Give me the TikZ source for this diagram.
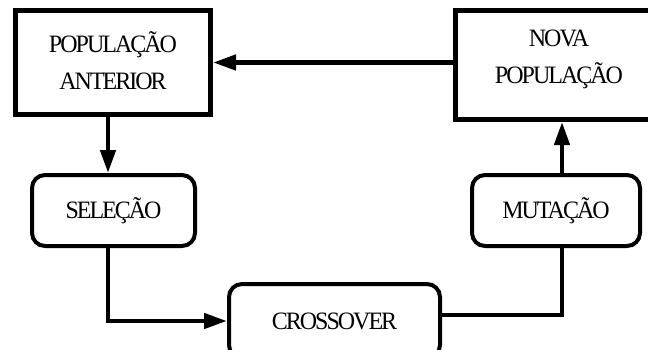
\documentclass[tikz,border=0pt]{standalone}
\usepackage{fontspec}
\setmainfont{Liberation Serif}[LetterSpace=-8,FakeStretch=0.96]
\usetikzlibrary{arrows.meta,calc}

\tikzset{
  popbox/.style={draw, line width=5pt, inner sep=0pt},
  stepbox/.style={draw, line width=4pt, rounded corners=13pt, inner sep=0pt,
    font=\fontsize{25pt}{37pt}\selectfont},
  lbl/.style={inner sep=0pt, align=center, font=\fontsize{25pt}{37pt}\selectfont},
  flow/.style={line width=4.5pt, -{Triangle[length=23pt,width=15pt]}},
  plain/.style={line width=4.5pt}
}

\begin{document}
\begin{tikzpicture}[x=1pt,y=-1pt]
  % page frame
  \fill[white] (0,0) rectangle (648,349);
  \useasboundingbox (0,0) rectangle (648,349);
  \clip (0,0) rectangle (648,349);

  % population boxes
  \node[popbox, minimum width=195pt, minimum height=104pt] (A) at (113,62.5) {};
  \node[lbl] (At) at (113,61) {POPULAÇÃO\\ANTERIOR};
  \node[popbox, minimum width=207pt, minimum height=109pt] (B) at (559,65) {};
  \node[lbl] (Bt) at (559,59.5) {NOVA\\POPULAÇÃO};

  % genetic operators
  \node[stepbox, minimum width=163pt, minimum height=71pt] (S) at (113.5,210.5) {SELEÇÃO};
  \node[stepbox, minimum width=168pt, minimum height=71pt] (M) at (556,210.5) {MUTAÇÃO};
  \node[stepbox, minimum width=211pt, minimum height=74pt] (C) at (334.5,321) {CROSSOVER};

  % connector columns
  \coordinate (c1) at (108,320);
  \coordinate (c2) at (562,315);

  % flow
  \draw[flow] (A.east -| B.west) -- (A.east);
  \draw[flow] (A.south -| c1) -- (S.north -| c1);
  \draw[flow] (S.south -| c1) |- (C.west);
  \draw[plain] (C.east |- c2) -| (M.south -| c2);
  \draw[flow] (M.north -| c2) -- (B.south -| c2);
\end{tikzpicture}
\end{document}
